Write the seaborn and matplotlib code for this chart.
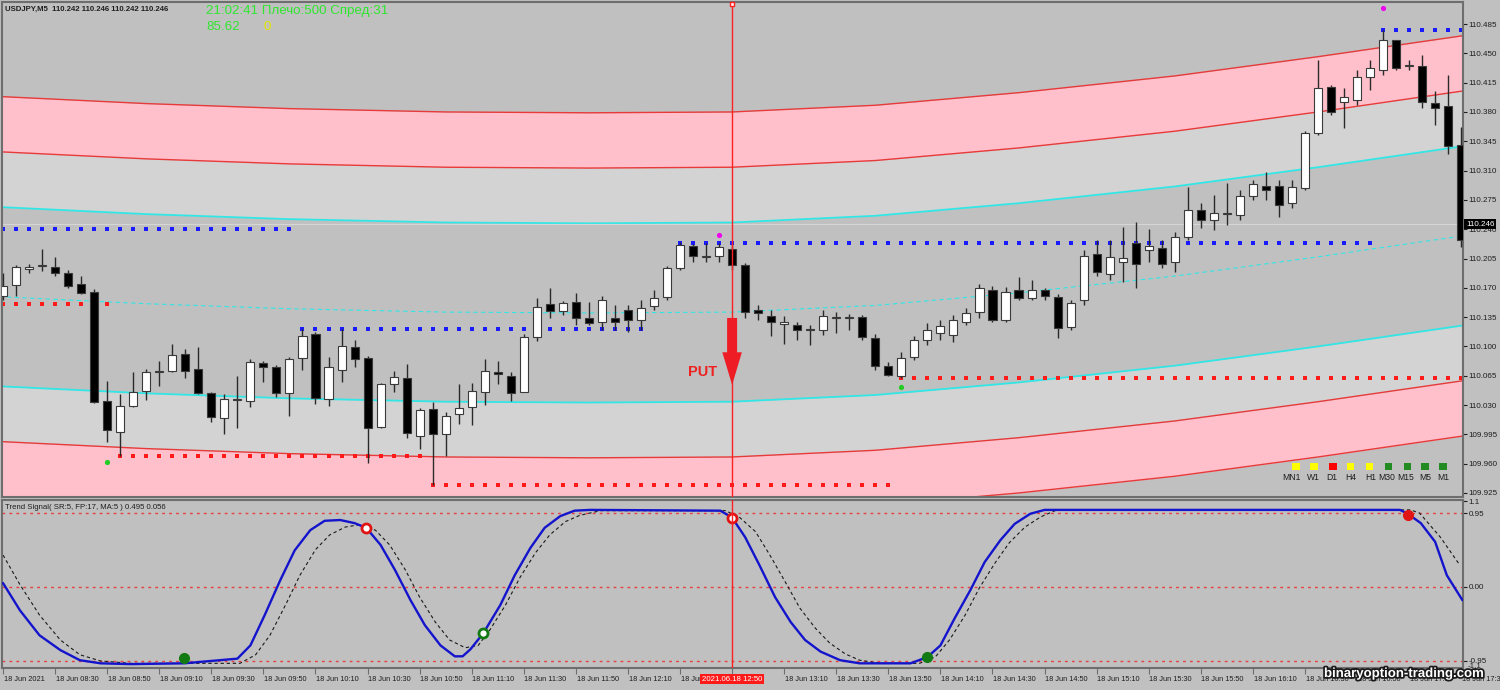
import matplotlib
matplotlib.use("Agg")
import matplotlib.pyplot as plt
import matplotlib.transforms as mtransforms
import matplotlib.patheffects as pe
import numpy as np
import pandas as pd
import seaborn as sns

# USDJPY M5 candles, 18 Jun 2021 08:10 .. 17:30
opens = [110.160, 110.173, 110.193, 110.196, 110.195, 110.188, 110.175, 110.165, 110.035, 109.998,
         110.029, 110.047, 110.069, 110.071, 110.091, 110.073, 110.044, 110.015, 110.036, 110.035,
         110.080, 110.076, 110.044, 110.086, 110.115, 110.037, 110.072, 110.099, 110.086, 110.004,
         110.055, 110.062, 109.993, 110.025, 109.996, 110.019, 110.028, 110.046, 110.069, 110.065,
         110.046, 110.111, 110.151, 110.142, 110.153, 110.134, 110.129, 110.134, 110.144, 110.132,
         110.148, 110.159, 110.194, 110.220, 110.207, 110.208, 110.216, 110.197, 110.144, 110.136,
         110.127, 110.126, 110.120, 110.120, 110.134, 110.134, 110.135, 110.110, 110.077, 110.065,
         110.087, 110.108, 110.116, 110.114, 110.129, 110.141, 110.167, 110.132, 110.167, 110.158,
         110.167, 110.159, 110.123, 110.156, 110.210, 110.187, 110.201, 110.224, 110.215, 110.218,
         110.201, 110.231, 110.263, 110.251, 110.258, 110.257, 110.280, 110.292, 110.292, 110.271,
         110.289, 110.355, 110.410, 110.392, 110.394, 110.422, 110.430, 110.466, 110.435, 110.435,
         110.391, 110.387, 110.341]
highs = [110.188, 110.197, 110.198, 110.216, 110.207, 110.191, 110.184, 110.169, 110.059, 110.043,
         110.069, 110.073, 110.083, 110.103, 110.097, 110.099, 110.045, 110.043, 110.065, 110.085,
         110.083, 110.078, 110.087, 110.121, 110.117, 110.087, 110.121, 110.108, 110.089, 110.056,
         110.071, 110.079, 110.027, 110.034, 110.022, 110.055, 110.056, 110.085, 110.083, 110.069,
         110.115, 110.158, 110.170, 110.154, 110.164, 110.153, 110.160, 110.150, 110.150, 110.156,
         110.167, 110.196, 110.225, 110.222, 110.224, 110.224, 110.222, 110.200, 110.150, 110.144,
         110.136, 110.129, 110.126, 110.144, 110.141, 110.139, 110.138, 110.115, 110.082, 110.093,
         110.113, 110.128, 110.132, 110.138, 110.146, 110.175, 110.172, 110.171, 110.183, 110.179,
         110.170, 110.163, 110.156, 110.215, 110.227, 110.227, 110.243, 110.249, 110.240, 110.227,
         110.237, 110.290, 110.271, 110.281, 110.295, 110.287, 110.299, 110.308, 110.299, 110.299,
         110.357, 110.442, 110.412, 110.409, 110.430, 110.442, 110.478, 110.466, 110.442, 110.448,
         110.405, 110.424, 110.362]
lows = [110.156, 110.160, 110.188, 110.190, 110.184, 110.170, 110.163, 110.033, 109.986, 109.969,
        110.028, 110.036, 110.053, 110.070, 110.062, 110.043, 110.010, 109.996, 110.002, 110.028,
        110.058, 110.040, 110.017, 110.072, 110.031, 110.029, 110.058, 110.076, 109.961, 110.003,
        110.046, 109.991, 109.978, 109.935, 109.969, 110.007, 110.006, 110.030, 110.055, 110.035,
        110.045, 110.107, 110.134, 110.138, 110.126, 110.125, 110.120, 110.120, 110.117, 110.120,
        110.144, 110.156, 110.191, 110.201, 110.201, 110.201, 110.191, 110.134, 110.132, 110.113,
        110.103, 110.108, 110.102, 110.114, 110.116, 110.120, 110.108, 110.072, 110.065, 110.062,
        110.084, 110.102, 110.108, 110.105, 110.126, 110.134, 110.129, 110.129, 110.156, 110.156,
        110.156, 110.110, 110.120, 110.150, 110.184, 110.179, 110.177, 110.170, 110.201, 110.194,
        110.189, 110.227, 110.242, 110.239, 110.245, 110.251, 110.275, 110.275, 110.255, 110.265,
        110.287, 110.353, 110.376, 110.361, 110.388, 110.406, 110.424, 110.430, 110.430, 110.385,
        110.364, 110.330, 110.219]
closes = [110.172, 110.195, 110.195, 110.197, 110.188, 110.172, 110.164, 110.034, 110.000, 110.029,
          110.046, 110.069, 110.071, 110.090, 110.071, 110.044, 110.016, 110.037, 110.037, 110.082,
          110.076, 110.044, 110.085, 110.113, 110.038, 110.076, 110.101, 110.085, 110.003, 110.055,
          110.064, 109.997, 110.024, 109.996, 110.017, 110.027, 110.047, 110.071, 110.067, 110.044,
          110.111, 110.147, 110.142, 110.152, 110.134, 110.128, 110.156, 110.129, 110.132, 110.146,
          110.158, 110.194, 110.221, 110.208, 110.208, 110.219, 110.197, 110.141, 110.140, 110.129,
          110.129, 110.120, 110.121, 110.136, 110.135, 110.135, 110.111, 110.077, 110.066, 110.086,
          110.108, 110.120, 110.124, 110.132, 110.140, 110.170, 110.132, 110.165, 110.158, 110.167,
          110.160, 110.122, 110.152, 110.208, 110.189, 110.207, 110.206, 110.198, 110.220, 110.198,
          110.231, 110.263, 110.251, 110.259, 110.259, 110.280, 110.294, 110.287, 110.269, 110.290,
          110.355, 110.409, 110.380, 110.398, 110.422, 110.433, 110.466, 110.433, 110.436, 110.392,
          110.385, 110.339, 110.227]

# time axis labels, one every 4 bars
tick_bars = list(range(0, 113, 4))
tick_labels = ["18 Jun 2021", "18 Jun 08:30", "18 Jun 08:50", "18 Jun 09:10", "18 Jun 09:30",
               "18 Jun 09:50", "18 Jun 10:10", "18 Jun 10:30", "18 Jun 10:50", "18 Jun 11:10",
               "18 Jun 11:30", "18 Jun 11:50", "18 Jun 12:10", "18 Jun 12:30", "18 Jun 12:50",
               "18 Jun 13:10", "18 Jun 13:30", "18 Jun 13:50", "18 Jun 14:10", "18 Jun 14:30",
               "18 Jun 14:50", "18 Jun 15:10", "18 Jun 15:30", "18 Jun 15:50", "18 Jun 16:10",
               "18 Jun 16:30", "18 Jun 16:50", "18 Jun 17:10", "18 Jun 17:30"]
price_ticks = [110.485, 110.450, 110.415, 110.380, 110.345, 110.310, 110.275, 110.240,
               110.205, 110.170, 110.135, 110.100, 110.065, 110.030, 109.995, 109.960, 109.925]

# regression channel: middle line and band half-widths
chan_bars = [-1, 11, 22, 34, 45, 56, 67, 78, 90, 101, 113]
chan_mid = [110.160, 110.151, 110.145, 110.141, 110.140, 110.141, 110.149, 110.164, 110.184, 110.207, 110.234]
band_inner = 0.107
band_middle = 0.173
band_outer = 0.239

# dotted support / resistance levels
res_levels = [110.240, 110.121, 110.224, 110.478]
res_start = [0, 23, 52, 106]
res_end = [22, 49, 105, 112]
sup_levels = [110.151, 109.969, 109.935, 110.062]
sup_start = [0, 9, 33, 69]
sup_end = [8, 32, 68, 112]

# fractal dots
top_dot_bars = [55, 106]
top_dot_prices = [110.233, 110.504]
bot_dot_bars = [8, 69]
bot_dot_prices = [109.962, 110.052]

# PUT signal
put_bar = 56
put_top = 110.134
put_tip = 110.054
put_label_price = 110.069
last_price = 110.246

# Trend Signal indicator
sig_bars = [0.0, 1.3, 2.8, 4.4, 5.9, 7.5, 9.8, 13.9, 18.0, 19.0, 20.1, 21.3, 22.4, 23.6, 24.7, 25.9,
            27.0, 27.9, 29.0, 30.1, 31.3, 32.4, 33.6, 34.7, 35.3, 35.9, 36.9, 38.2, 39.3, 40.5, 41.6,
            42.8, 43.9, 45.1, 55.1, 56.0, 57.0, 58.1, 59.3, 60.5, 61.6, 62.8, 64.3, 65.8, 69.7, 71.0,
            72.0, 73.1, 74.3, 75.4, 76.6, 77.7, 78.9, 80.0, 107.3, 107.9, 108.9, 110.0, 110.9, 112.1]
sig_vals = [0.05, -0.30, -0.62, -0.81, -0.94, -0.98, -0.99, -0.98, -0.92, -0.75, -0.36, 0.09, 0.47,
            0.73, 0.85, 0.86, 0.82, 0.76, 0.54, 0.22, -0.17, -0.49, -0.75, -0.89, -0.89, -0.80, -0.59,
            -0.23, 0.15, 0.50, 0.76, 0.91, 0.98, 0.99, 0.98, 0.89, 0.64, 0.28, -0.13, -0.45, -0.68,
            -0.83, -0.94, -0.98, -0.98, -0.90, -0.75, -0.40, -0.04, 0.32, 0.60, 0.81, 0.94, 0.99,
            0.99, 0.94, 0.82, 0.58, 0.15, -0.17]
ma_bars = [0.0, 1.3, 2.8, 4.4, 5.9, 7.5, 9.8, 18.2, 19.4, 20.5, 21.7, 22.8, 24.0, 25.1, 26.3, 27.4,
           28.6, 29.7, 30.9, 32.0, 33.2, 34.3, 35.5, 36.5, 37.4, 38.6, 39.7, 40.9, 42.0, 43.2, 44.3,
           45.9, 55.5, 56.6, 57.8, 58.9, 60.1, 61.2, 62.4, 63.5, 64.7, 65.8, 67.4, 70.4, 71.6, 72.7,
           73.9, 75.0, 76.2, 77.3, 78.5, 79.7, 80.8, 82.0, 108.1, 108.8, 110.4, 111.9]
ma_vals = [0.41, 0.03, -0.36, -0.68, -0.87, -0.95, -0.98, -0.98, -0.87, -0.62, -0.23, 0.15, 0.48,
           0.67, 0.77, 0.80, 0.73, 0.54, 0.22, -0.13, -0.45, -0.68, -0.78, -0.75, -0.55, -0.23, 0.12,
           0.44, 0.67, 0.84, 0.92, 0.98, 0.98, 0.89, 0.71, 0.41, 0.06, -0.27, -0.53, -0.72, -0.86,
           -0.94, -0.98, -0.98, -0.90, -0.68, -0.36, -0.01, 0.31, 0.57, 0.77, 0.90, 0.98, 0.99,
           0.99, 0.95, 0.64, 0.28]
sig_levels = [0.95, 0.0, -0.95]
ring_red_bars = [27.9, 56.0]
ring_red_vals = [0.76, 0.89]
ring_green_bars = [36.9]
ring_green_vals = [-0.59]
dot_green_bars = [13.9, 71.0]
dot_green_vals = [-0.91, -0.90]
dot_red_bars = [107.9]
dot_red_vals = [0.92]

# timeframe trend panel
tf_names = ["MN1", "W1", "D1", "H4", "H1", "M30", "M15", "M5", "M1"]
tf_colors = ["#ffff00", "#ffff00", "#ff0000", "#ffff00", "#ffff00",
             "#228b22", "#228b22", "#228b22", "#228b22"]
tf_box_x = [0.8857, 0.8980, 0.9110, 0.9233, 0.9363, 0.9487, 0.9617, 0.9740, 0.9863]
tf_text_x = [0.8823, 0.8973, 0.9103, 0.9233, 0.9370, 0.9480, 0.9610, 0.9740, 0.9863]

# ---- style ----
sns.set_style("ticks", {"axes.facecolor": "#c0c0c0", "figure.facecolor": "#c0c0c0"})
plt.rcParams["font.family"] = ["Liberation Sans", "DejaVu Sans"]
silver = "#c0c0c0"
frame = "#6e6e6e"
txt = "#1e1e1e"

fig = plt.figure(figsize=(15, 6.9), dpi=100, facecolor=silver)
ax = fig.add_axes([2 / 1500, 1 - 497 / 690, 1461 / 1500, 495 / 690])
ax2 = fig.add_axes([2 / 1500, 1 - 668 / 690, 1461 / 1500, 168 / 690])
for a in (ax, ax2):
    a.set_facecolor(silver)
    a.set_xlim(-0.08, 112.14)
    for s in a.spines.values():
        s.set_color(frame)
        s.set_linewidth(1.5)

# ---- channel bands ----
mid = np.array(chan_mid)
ax.fill_between(chan_bars, mid + band_middle, mid + band_outer, color="#ffc0cb", lw=0, zorder=0)
ax.fill_between(chan_bars, mid + band_inner, mid + band_middle, color="#d3d3d3", lw=0, zorder=0)
ax.fill_between(chan_bars, mid - band_middle, mid - band_inner, color="#d3d3d3", lw=0, zorder=0)
ax.fill_between(chan_bars, mid - band_outer, mid - band_middle, color="#ffc0cb", lw=0, zorder=0)
for off, col, lw in [(band_outer, "#e83a3a", 1.0), (band_middle, "#e83a3a", 1.0),
                     (band_inner, "#33e6e6", 1.3), (-band_inner, "#33e6e6", 1.3),
                     (-band_middle, "#e83a3a", 1.0), (-band_outer, "#e83a3a", 1.0)]:
    sns.lineplot(x=chan_bars, y=mid + off, ax=ax, color=col, lw=lw, zorder=1)
sns.lineplot(x=chan_bars, y=mid, ax=ax, color="#33e6e6", lw=0.8, linestyle=(0, (4, 3)), zorder=1)
ax.axhline(last_price, color="#d6d6d6", lw=0.8, zorder=1)

# ---- levels and fractals ----
for p, a0, a1 in zip(res_levels, res_start, res_end):
    xs = np.arange(a0, a1 + 1)
    ax.scatter(xs, [p] * len(xs), s=5, marker="s", color="#1a1aff", lw=0, zorder=2)
for p, a0, a1 in zip(sup_levels, sup_start, sup_end):
    xs = np.arange(a0, a1 + 1)
    ax.scatter(xs, [p] * len(xs), s=5, marker="s", color="#ff1a1a", lw=0, zorder=2)
ax.scatter(top_dot_bars, top_dot_prices, s=14, color="#ee00ee", lw=0, zorder=5)
ax.scatter(bot_dot_bars, bot_dot_prices, s=14, color="#22cc22", lw=0, zorder=5)

# ---- candles ----
o = np.array(opens)
c = np.array(closes)
bars = np.arange(len(opens))
ax.vlines(bars, lows, highs, color="#2a2a2a", lw=1, zorder=3)
body_bottom = np.minimum(o, c)
body_height = np.maximum(np.abs(c - o), 0.0006)
body_col = ["white" if cc >= oo else "black" for oo, cc in zip(o, c)]
ax.bar(bars, body_height, bottom=body_bottom, width=0.62, color=body_col,
       edgecolor="#3a3a3a", lw=0.8, zorder=4)

# ---- PUT signal ----
ax.axvline(put_bar, color="#ff2020", lw=1, zorder=6)
ax2.axvline(put_bar, color="#ff2020", lw=1, zorder=6)
ax.arrow(put_bar, put_top, 0, put_tip - put_top, width=0.77, head_width=1.5,
         head_length=0.039, length_includes_head=True, color="#ee1c24", lw=0, zorder=7)
ax.text(put_bar - 2.25, put_label_price, "PUT", color="#ee2020", fontsize=10.5,
        weight="bold", ha="center", va="center", zorder=7)
top_tr = mtransforms.blended_transform_factory(ax.transData, ax.transAxes)
ax.plot([put_bar], [0.995], "s", ms=3, mfc="white", mec="#ff2020", transform=top_tr,
        clip_on=False, zorder=8)

# ---- main axis ticks ----
ax.set_ylim(109.9202, 110.5113)
ax.set_xticks([])
ax.yaxis.tick_right()
ax.set_yticks(price_ticks)
ax.set_yticklabels([f"{p:.3f}" for p in price_ticks])
ax.tick_params(axis="y", direction="out", length=3, pad=1.2, labelsize=5.8, colors=txt)
ax.set_xlabel("")
ax.set_ylabel("")
ax.text(1.002, last_price, f"{last_price:.3f}", transform=mtransforms.blended_transform_factory(
    ax.transAxes, ax.transData), va="center", ha="left", color="white", fontsize=5.8,
    bbox=dict(facecolor="black", edgecolor="none", pad=1.3), zorder=10, clip_on=False)

# timeframe squares
ax.scatter(tf_box_x, [0.062] * len(tf_box_x), transform=ax.transAxes, marker="s", s=26,
           c=tf_colors, edgecolors="none", zorder=8)
for name, xx in zip(tf_names, tf_text_x):
    ax.text(xx, 0.039, name, transform=ax.transAxes, ha="center", va="center",
            fontsize=6.2, color=txt, zorder=8)

# ---- indicator panel ----
for lv in sig_levels:
    ax2.axhline(lv, color="#e84040", lw=1, linestyle=(0, (2, 3)), zorder=1)
sns.lineplot(x=ma_bars, y=ma_vals, ax=ax2, color="#1a1a1a", lw=0.8,
             linestyle=(0, (3, 2.5)), zorder=2)
sns.lineplot(x=sig_bars, y=sig_vals, ax=ax2, color="#1414cc", lw=1.7, zorder=3)
ax2.plot(dot_green_bars, dot_green_vals, "o", ms=7, color="#127a12", zorder=5)
ax2.plot(dot_red_bars, dot_red_vals, "o", ms=7, color="#e01414", zorder=5)
ax2.plot(ring_red_bars, ring_red_vals, "o", ms=6.5, mfc="white", mec="#e01414", mew=2, zorder=5)
ax2.plot(ring_green_bars, ring_green_vals, "o", ms=6.5, mfc="white", mec="#127a12", mew=2, zorder=5)
ax2.set_ylim(-1.04, 1.117)
ax2.yaxis.tick_right()
ax2.set_yticks([1.1, 0.95, 0.0, -0.95])
ax2.set_yticklabels(["1.1", "0.95", "0.00", "-0.95"])
ax2.tick_params(axis="y", direction="out", length=3, pad=1.2, labelsize=5.8, colors=txt)
ax2.set_xlabel("")
ax2.set_ylabel("")
ax2.set_xticks(tick_bars)
ax2.set_xticklabels([])
ax2.tick_params(axis="x", direction="out", length=4, colors=frame)
bot_tr = mtransforms.blended_transform_factory(ax2.transData, ax2.transAxes)
for b, lbl in zip(tick_bars, tick_labels):
    if b == put_bar:
        continue
    ax2.text(b + 0.05, -0.066, lbl, transform=bot_tr, ha="left", va="center",
             fontsize=5.3, color=txt, clip_on=False)
ax2.text(put_bar, -0.066, "2021.06.18 12:50", transform=bot_tr, ha="center", va="center",
         fontsize=5.6, color="white", clip_on=False, zorder=10,
         bbox=dict(facecolor="#ff1a1a", edgecolor="none", pad=1.3))
ax2.text(0.002, 0.958, "Trend Signal( SR:5, FP:17, MA:5 ) 0.495 0.056", transform=ax2.transAxes,
         fontsize=5.6, color=txt, ha="left", va="center")
fig.text(1468 / 1500, 1 - 667 / 690, "-1.1", fontsize=5.8, color=txt, ha="left", va="center")

# ---- header texts ----
fig.text(5 / 1500, 1 - 9 / 690, "USDJPY,M5  110.242 110.246 110.242 110.246", fontsize=5.6,
         weight="bold", color=txt, ha="left", va="center")
fig.text(206 / 1500, 1 - 11 / 690, "21:02:41 Плечо:500 Спред:31", fontsize=9.6,
         color="#2ee62e", ha="left", va="center")
fig.text(206 / 1500, 1 - 27 / 690, "85.62", fontsize=9.6, color="#2ee62e", ha="left", va="center")
fig.text(263 / 1500, 1 - 27 / 690, "0", fontsize=9.6, color="#e6e600", ha="left", va="center")

# watermark
fig.text(1404 / 1500, 1 - 674 / 690, "binaryoption-trading.com", fontsize=9.5, weight="bold",
         color="white", ha="center", va="center",
         path_effects=[pe.withStroke(linewidth=2.5, foreground="#1a1a1a")])

fig.savefig("out.png", dpi=100, facecolor=fig.get_facecolor())
